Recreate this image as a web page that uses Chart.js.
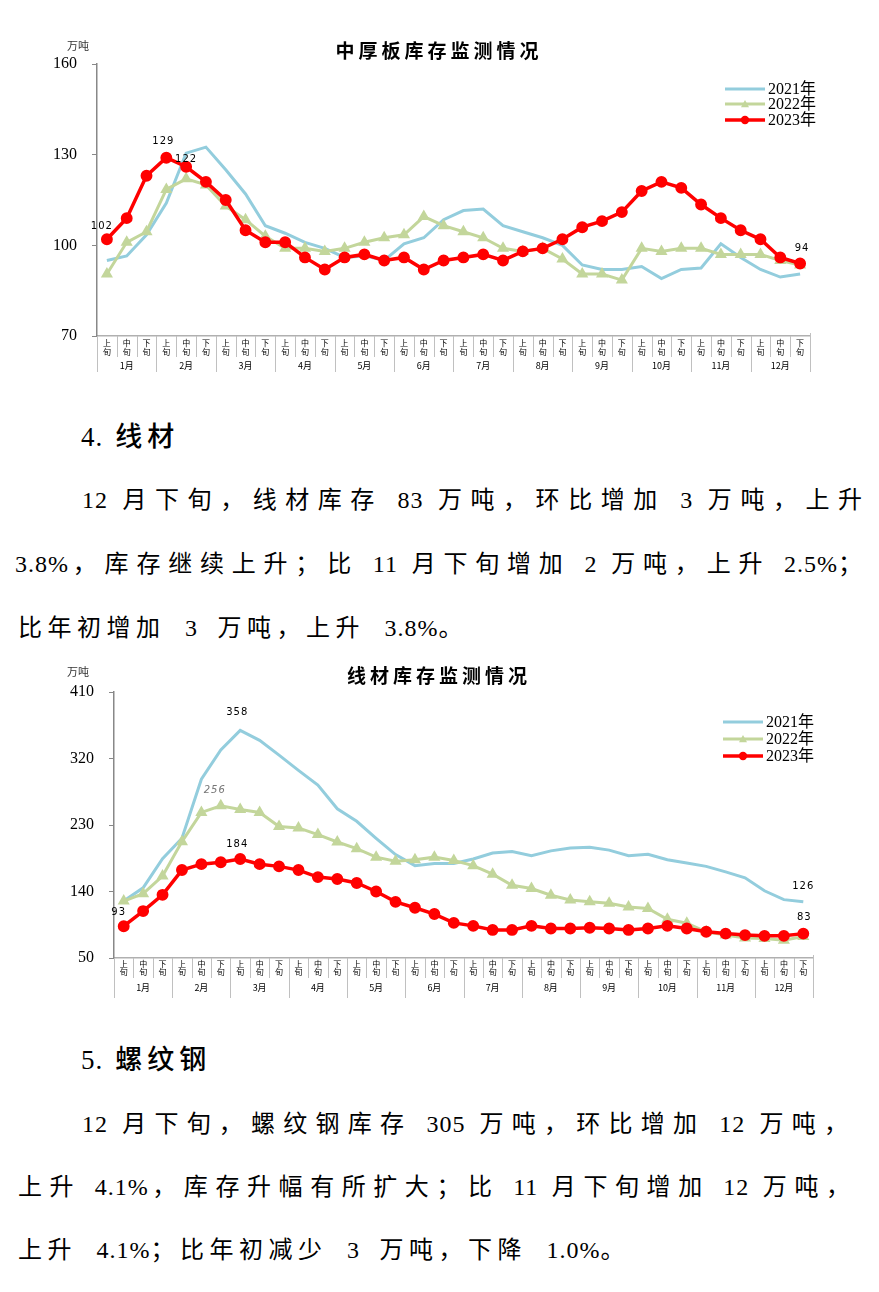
<!DOCTYPE html>
<html>
<head>
<meta charset="utf-8">
<script src="https://cdn.jsdelivr.net/npm/chart.js@4.4.0/dist/chart.umd.min.js"></script>
<style>
body{margin:0;background:#fff;width:879px;height:1292px;position:relative;overflow:hidden;font-family:"Liberation Serif","Noto Sans CJK SC",serif;color:#000}
.box{position:absolute;left:0;width:879px}
.t{position:absolute;font-size:24px;line-height:30px;white-space:nowrap;letter-spacing:5.5px;word-spacing:8px}
.j{text-align:justify;text-align-last:justify;white-space:normal;letter-spacing:4px;word-spacing:0}
.h{font-size:27px;font-weight:500;letter-spacing:5px;word-spacing:0}
.t b{font-weight:normal;letter-spacing:1px}
.h b{margin-right:12px}
</style>
</head>
<body>
<div class="box" style="top:30px;height:350px"><canvas id="plate"></canvas></div>

<div class="t h" style="left:81px;top:422px"><b>4.</b>线材</div>
<div class="t j" style="left:82px;top:485px;width:784px"><b>12</b> 月下旬，线材库存 <b>83</b> 万吨，环比增加 <b>3</b> 万吨，上升</div>
<div class="t j" style="left:15px;top:549px;width:851px"><b>3.8%</b>，库存继续上升；比 <b>11</b> 月下旬增加 <b>2</b> 万吨，上升 <b>2.5%</b>；</div>
<div class="t" style="left:18px;top:613px">比年初增加 <b>3</b> 万吨，上升 <b>3.8%</b>。</div>

<div class="box" style="top:660px;height:340px"><canvas id="wire"></canvas></div>

<div class="t h" style="left:81px;top:1045px"><b>5.</b>螺纹钢</div>
<div class="t j" style="left:82px;top:1109px;width:770px"><b>12</b> 月下旬，螺纹钢库存 <b>305</b> 万吨，环比增加 <b>12</b> 万吨，</div>
<div class="t j" style="left:18px;top:1172px;width:836px">上升 <b>4.1%</b>，库存升幅有所扩大；比 <b>11</b> 月下旬增加 <b>12</b> 万吨，</div>
<div class="t" style="left:18px;top:1235px">上升 <b>4.1%</b>；比年初减少 <b>3</b> 万吨，下降 <b>1.0%</b>。</div>

<script>
// categories: 12 months x 上/中/下旬
var months = ["1月", "2月", "3月", "4月", "5月", "6月", "7月", "8月", "9月", "10月", "11月", "12月"];
var periods = ["上旬", "中旬", "下旬"];
var categories = [];
months.forEach(function (m) { periods.forEach(function (p) { categories.push(m + p); }); });
var years = ["2021年", "2022年", "2023年"];

// 中厚板库存 (万吨)
var plateTicks = [70, 100, 130, 160];
var plate2021 = [95, 96.5, 103.5, 114, 130.5, 132.5, 125, 117, 106.5, 104, 101, 99, 96, 96.5, 95, 100.5, 102.5, 108.5,
  111.5, 112, 106.5, 104.5, 102.5, 100, 93.5, 92, 92, 93, 89, 92, 92.5, 100.5, 96, 92, 89.5, 90.5];
var plate2022 = [90.5, 101, 104.5, 118.5, 122, 120, 113, 108.5, 103, 99, 99, 98, 99, 101, 102.5, 103.5, 109.5, 106.5,
  104.5, 102.5, 99, 98, 99, 95.5, 90.5, 90.5, 88.5, 99, 98, 99, 99, 97, 97, 97, 95, 93.5];
var plate2023 = [102, 109, 123, 129, 126, 121, 115, 105, 101, 101, 96, 92, 96, 97, 95, 96, 92, 95,
  96, 97, 95, 98, 99, 102, 106, 108, 111, 118, 121, 119, 113.5, 109, 105, 102, 96, 94];

// 线材库存 (万吨)
var wireTicks = [50, 140, 230, 320, 410];
var wire2021 = [127, 145, 184.5, 212, 292, 331.5, 358, 344.5, 324.5, 304, 284, 252, 235, 212, 190, 175, 178, 178,
  184, 192, 194, 188.5, 195, 199, 200, 196, 188.5, 190.5, 183, 178.5, 174, 166.5, 158.5, 141, 129, 126];
var wire2022 = [127, 137, 161, 207.5, 247, 256, 251, 247, 228, 226, 217, 207, 198, 186.5, 181, 183, 186.5, 182,
  175, 163.5, 148.5, 144, 135, 128.5, 126, 124, 119, 117, 102.5, 97, 85.5, 81, 77, 76.5, 74, 79];
var wire2023 = [93, 113.5, 135.5, 169, 177, 179.5, 184, 177, 174, 169, 159.5, 157, 151.5, 140, 126, 118, 109.5, 97.5,
  93.5, 88, 88, 93.5, 90, 90, 91, 90, 88, 90, 93.5, 90, 85.5, 83, 81, 80, 80, 83];

var blue = "#93CDDD", green = "#C3D69B", red = "#FF0000";

function drawMarker(ctx, style, x, y, r, color) {
  ctx.fillStyle = color;
  ctx.beginPath();
  if (style === "triangle") {
    ctx.moveTo(x, y - r);
    ctx.lineTo(x + r, y + r * 0.8);
    ctx.lineTo(x - r, y + r * 0.8);
    ctx.closePath();
  } else {
    ctx.arc(x, y, r, 0, Math.PI * 2);
  }
  ctx.fill();
}

var decor = {
  id: "decor",
  afterDraw: function (chart, args, o) {
    var ctx = chart.ctx, xs = chart.scales.x, base = chart.chartArea.bottom;
    var half = (xs.getPixelForValue(1) - xs.getPixelForValue(0)) / 2;
    ctx.save();
    // x axis: period labels, separators, month names
    ctx.strokeStyle = "#c0c0c0";
    ctx.lineWidth = 1;
    ctx.fillStyle = "#000";
    ctx.font = '8px "Noto Sans CJK SC"';
    ctx.textAlign = "center";
    ctx.textBaseline = "middle";
    categories.forEach(function (c, i) {
      var x = xs.getPixelForValue(i);
      var left = Math.round(x - half) + 0.5;
      ctx.beginPath();
      ctx.moveTo(left, base);
      ctx.lineTo(left, base + (i % 3 === 0 ? o.monthSep : o.sep));
      ctx.stroke();
      ctx.fillText(periods[i % 3].charAt(0), x, base + o.r1);
      ctx.fillText(periods[i % 3].charAt(1), x, base + o.r2);
    });
    var right = Math.round(xs.getPixelForValue(categories.length - 1) + half) + 0.5;
    ctx.beginPath();
    ctx.moveTo(right, base - 3);
    ctx.lineTo(right, base + o.monthSep);
    ctx.stroke();
    ctx.font = '9px "Noto Sans CJK SC"';
    months.forEach(function (m, k) {
      ctx.fillText(m, xs.getPixelForValue(k * 3 + 1), base + o.r3);
    });

    // title and unit
    ctx.font = 'bold 19px "Noto Sans CJK SC"';
    ctx.letterSpacing = "4px";
    ctx.fillText(o.title, 439, o.titleY);
    ctx.letterSpacing = "0px";
    ctx.font = '11px "Noto Sans CJK SC"';
    ctx.fillStyle = "#333";
    ctx.fillText("万吨", 78, o.unitY);

    // legend
    ctx.font = '16px "Liberation Serif", "Noto Sans CJK SC"';
    ctx.textAlign = "left";
    chart.data.datasets.forEach(function (ds, k) {
      var y = o.legendY[k];
      ctx.strokeStyle = ds.borderColor;
      ctx.lineWidth = ds.borderWidth;
      ctx.beginPath();
      ctx.moveTo(o.legendX, y);
      ctx.lineTo(o.legendX + 40, y);
      ctx.stroke();
      if (ds.pointRadius > 0) drawMarker(ctx, ds.pointStyle, o.legendX + 20, y, ds.pointRadius, ds.borderColor);
      ctx.fillStyle = "#000";
      ctx.fillText(ds.label, o.legendX + 43, y + 1);
    });

    // data labels
    ctx.textAlign = "center";
    o.labels.forEach(function (l) {
      var p = chart.getDatasetMeta(l.ds).data[l.i];
      ctx.font = (l.italic ? "italic " : "") + '10px "DejaVu Sans"';
      ctx.letterSpacing = "1px";
      ctx.fillStyle = l.color || "#000";
      ctx.fillText(chart.data.datasets[l.ds].data[l.i], p.x + l.dx, p.y + l.dy);
    });
    ctx.restore();
  }
};

function makeChart(id, s2021, s2022, s2023, ticks, axisW, rightPad, topPad, xH, deco) {
  return new Chart(document.getElementById(id), {
    type: "line",
    data: {
      labels: categories,
      datasets: [
        { label: years[0], data: s2021, borderColor: blue, backgroundColor: blue, borderWidth: 3,
          pointRadius: 0, order: 2 },
        { label: years[1], data: s2022, borderColor: green, backgroundColor: green, borderWidth: 3,
          pointStyle: "triangle", pointRadius: 4, order: 1 },
        { label: years[2], data: s2023, borderColor: red, backgroundColor: red, borderWidth: 3.5,
          pointStyle: "circle", pointRadius: 4.2, order: 0 }
      ]
    },
    options: {
      responsive: true,
      maintainAspectRatio: false,
      animation: false,
      layout: { padding: { top: topPad, right: rightPad, left: 0, bottom: 0 } },
      plugins: { legend: { display: false }, tooltip: { enabled: false }, decor: deco },
      scales: {
        x: {
          offset: true,
          grid: { display: false },
          border: { color: "#b0b0b0", width: 1.5 },
          ticks: { display: false },
          afterFit: function (s) { s.height = xH; }
        },
        y: {
          min: ticks[0],
          max: ticks[ticks.length - 1],
          afterBuildTicks: function (s) { s.ticks = ticks.map(function (v) { return { value: v }; }); },
          grid: { drawOnChartArea: false, tickLength: 5, color: "#888" },
          border: { color: "#888", width: 1.5 },
          ticks: { padding: 15, color: "#000", font: { family: "Liberation Serif", size: 16 } },
          afterFit: function (s) { s.width = axisW; }
        }
      }
    },
    plugins: [decor]
  });
}

makeChart("plate", plate2021, plate2022, plate2023, plateTicks, 97, 69, 34, 44, {
  title: "中厚板库存监测情况", titleY: 21, unitY: 16,
  legendX: 725, legendY: [59, 74, 90],
  r1: 7, r2: 16, r3: 30, sep: 21, monthSep: 36,
  labels: [
    { ds: 2, i: 0, dx: -5, dy: -13 },
    { ds: 2, i: 3, dx: -3, dy: -16 },
    { ds: 1, i: 4, dx: 0, dy: -19 },
    { ds: 2, i: 35, dx: 2, dy: -15 }
  ]
});

makeChart("wire", wire2021, wire2022, wire2023, wireTicks, 114, 66, 32, 42, {
  title: "线材库存监测情况", titleY: 16, unitY: 12,
  legendX: 723, legendY: [62, 79, 96],
  r1: 6, r2: 14, r3: 30, sep: 20, monthSep: 40,
  labels: [
    { ds: 0, i: 6, dx: -3, dy: -18 },
    { ds: 1, i: 5, dx: -6, dy: -15, italic: true, color: "#777" },
    { ds: 2, i: 6, dx: -3, dy: -15 },
    { ds: 2, i: 0, dx: -5, dy: -14 },
    { ds: 0, i: 35, dx: 0, dy: -15 },
    { ds: 2, i: 35, dx: 1, dy: -16 }
  ]
});
</script>
</body>
</html>
